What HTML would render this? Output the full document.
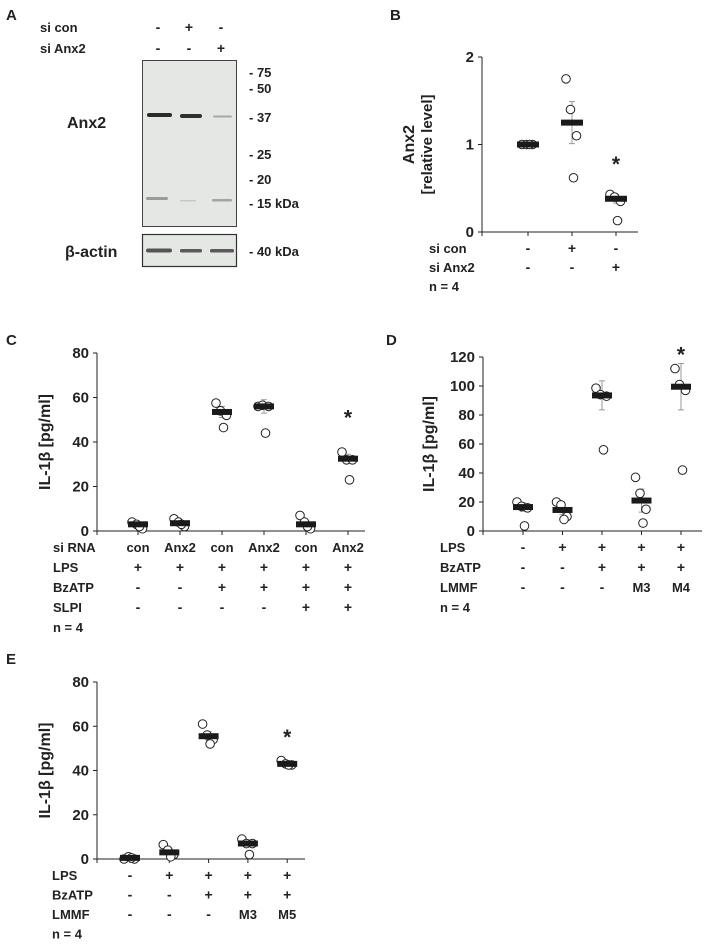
<!DOCTYPE html>
<html><head><meta charset="utf-8">
<style>
html,body{margin:0;padding:0;background:#fff;}
svg{display:block;font-family:"Liberation Sans",Arial,sans-serif;font-weight:bold;fill:#222;}
</style></head>
<body>
<svg id="fig" width="704" height="945" viewBox="0 0 704 945" xmlns="http://www.w3.org/2000/svg">
<g>
<text x="6" y="20" font-size="15">A</text>
<text x="40" y="32" font-size="13">si  con</text>
<text x="40" y="53" font-size="13">si  Anx2</text>
<g font-size="14" text-anchor="middle">
<text x="158" y="32">-</text><text x="189" y="32">+</text><text x="221" y="32">-</text>
<text x="158" y="53">-</text><text x="189" y="53">-</text><text x="221" y="53">+</text>
</g>
<rect x="142.5" y="60.5" width="94" height="166" fill="#e4e7e3" stroke="#444" stroke-width="1"/>
<rect x="147" y="113" width="25" height="4" rx="2" fill="#2a2a2a"/>
<rect x="180" y="114" width="22" height="4" rx="2" fill="#2f2f2f"/>
<rect x="213" y="115.5" width="19" height="2" rx="1" fill="#a6a8a5"/>
<rect x="146" y="197" width="22" height="3" rx="1.5" fill="#9a9c99"/>
<rect x="180" y="200" width="16" height="1.5" fill="#c6c8c5"/>
<rect x="212" y="199" width="20" height="2.5" rx="1" fill="#a2a4a1"/>
<rect x="142.5" y="234.5" width="94" height="32" fill="#e4e7e3" stroke="#333" stroke-width="1.2"/>
<rect x="146" y="248.5" width="26" height="4" rx="2" fill="#555"/>
<rect x="180" y="249" width="22" height="3.5" rx="1.5" fill="#5a5a5a"/>
<rect x="210" y="249" width="24" height="3.5" rx="1.5" fill="#5a5a5a"/>
<text x="67" y="128" font-size="16">Anx2</text>
<text x="65" y="257" font-size="16">β-actin</text>
<g font-size="13">
<text x="249" y="77">- 75</text><text x="249" y="93">- 50</text><text x="249" y="122">- 37</text>
<text x="249" y="159">- 25</text><text x="249" y="184">- 20</text><text x="249" y="208">- 15 kDa</text>
<text x="249" y="256">- 40 kDa</text>
</g>
</g>
<text x="390" y="20" font-size="15">B</text>
<text x="6" y="345" font-size="15">C</text>
<text x="386" y="345" font-size="15">D</text>
<text x="6" y="664" font-size="15">E</text>
</svg>
<script>
// Panel B data
const bCats = ["1","2","3"];
const bPoints = [[1,1,1,1],[1.75,1.4,1.1,0.62],[0.43,0.4,0.35,0.13]];
const bMeans = [1,1.25,0.38];
const bSem = [0.01,0.24,0.05];
const bTicks = [0,1,2];
const bStar = [null,null,0.8];
// Panel C data
const cCats = ["1","2","3","4","5","6"];
const cPoints = [[4,3,1,2],[5.5,4,2,3],[57.5,54,52,46.5],[56,56.5,56,44],[7,4,1,2],[35.5,32,32,23]];
const cMeans = [3,3.5,53.5,56,3,32.5];
const cSem = [1,1,2.5,3,1.5,2];
const cTicks = [0,20,40,60,80];
const cStar = [null,null,null,null,null,52];
// Panel D data
const dCats = ["1","2","3","4","5"];
const dPoints = [[20,17,16,3.5],[20,18,10,8],[98.5,94,93,56],[37,26,15,5.5],[112,101,97,42]];
const dMeans = [16.5,14.5,93.5,21,99.5];
const dSem = [3,3,10,8,16];
const dTicks = [0,20,40,60,80,100,120];
const dStar = [null,null,null,null,123];
// Panel E data
const eCats = ["1","2","3","4","5"];
const ePoints = [[0,1,0,0.5],[6.5,4,2,1],[61,56,54,52],[9,7,7,2],[44.5,43,42.5,42.5]];
const eMeans = [0.5,3,55.5,7,43];
const eSem = [0.3,1.2,2,1.5,0.5];
const eTicks = [0,20,40,60,80];
const eStar = [null,null,null,null,56];

const NS="http://www.w3.org/2000/svg";
const svg=document.getElementById('fig');
function mk(tag,attrs,parent){const e=document.createElementNS(NS,tag);for(const k in attrs)e.setAttribute(k,attrs[k]);(parent||svg).appendChild(e);return e;}

function panel(name,cfg,cats,points,means,sem,ticks,star){
  const g=mk('g',{});
  
  
  const ymax=ticks[ticks.length-1];
  const Y=v=>cfg.y0-(v/ymax)*(cfg.y0-cfg.yTop);
  const X=i=>cfg.x0+cfg.first+i*cfg.step;
  const ax=mk('path',{d:`M${cfg.x0},${cfg.yTop} V${cfg.y0} H${cfg.xEnd}`,stroke:'#222','stroke-width':1,fill:'none'},g);
  
  
  ticks.forEach(t=>{
    const tk=mk('line',{x1:cfg.x0-4,x2:cfg.x0,y1:Y(t),y2:Y(t),stroke:'#222'},g);
    
    
    const tl=mk('text',{x:cfg.x0-8,y:Y(t)+5,'font-size':15,'text-anchor':'end'},g);
    tl.textContent=t;
    
    
  });
  mk('line',{x1:cfg.x0,x2:cfg.x0,y1:cfg.y0,y2:cfg.y0+4,stroke:'#222'},g);
  cats.forEach((c,i)=>{
    const x=X(i);
    const xt=mk('line',{x1:x,x2:x,y1:cfg.y0,y2:cfg.y0+4,stroke:'#222'},g);
    
    
    const eb=mk('path',{d:`M${x},${Y(means[i]+sem[i])} V${Y(Math.max(0,means[i]-sem[i]))} M${x-3},${Y(means[i]+sem[i])} H${x+3} M${x-3},${Y(Math.max(0,means[i]-sem[i]))} H${x+3}`,stroke:'#999','stroke-width':1,fill:'none'},g);
    
    
    const offs=[-4,-1,3,1];
    points[i].forEach((v,j)=>{
      const p=mk('circle',{cx:x+offs[j]*1.5,cy:Y(v),r:4.3,fill:'#fff',stroke:'#222','stroke-width':1},g);
      
      
    });
    const m=mk('rect',{x:x-cfg.bw/2,y:Y(means[i])-3,width:cfg.bw,height:6,fill:'#1a1a1a'},g);
    
    
    if(star[i]!=null){
      const s=mk('text',{x:x,y:Y(star[i])+9,'font-size':21,'text-anchor':'middle'},g);
      s.textContent='*';
      
      
    }
  });
  cfg.ylab.forEach((l,k)=>{
    const t=mk('text',{transform:`translate(${l[1]},${(cfg.y0+cfg.yTop)/2}) rotate(-90)`,'font-size':l[2],'text-anchor':'middle'},g);
    t.textContent=l[0];
    
    
  });
  cfg.rows.forEach((r,k)=>{
    const y=cfg.rowY+k*cfg.rowH;
    const lab=mk('text',{x:cfg.labX,y:y,'font-size':13},g);
    lab.textContent=r[0];
    
    
    (r[1]||[]).forEach((v,i)=>{
      const t=mk('text',{x:X(i),y:y,'font-size':(v==='-'||v==='+')?14:13,'text-anchor':'middle'},g);
      t.textContent=v;
      
      
    });
  });
}

panel('panel-b',{x0:482,yTop:57,y0:232,xEnd:638,first:46,step:44,bw:22,
  ylab:[["Anx2",414,16],["[relative level]",432,15]],
  rowY:253,rowH:19,labX:429,
  rows:[["si  con",["-","+","-"]],["si  Anx2",["-","-","+"]],["n = 4",null]]},
  bCats,bPoints,bMeans,bSem,bTicks,bStar);

panel('panel-c',{x0:97,yTop:353,y0:531,xEnd:365,first:41,step:42,bw:20,
  ylab:[["IL-1β [pg/ml]",50,16]],
  rowY:552,rowH:20,labX:53,
  rows:[["si RNA",["con","Anx2","con","Anx2","con","Anx2"]],["LPS",["+","+","+","+","+","+"]],["BzATP",["-","-","+","+","+","+"]],["SLPI",["-","-","-","-","+","+"]],["n = 4",null]]},
  cCats,cPoints,cMeans,cSem,cTicks,cStar);

panel('panel-d',{x0:483,yTop:357,y0:531,xEnd:702,first:40,step:39.5,bw:20,
  ylab:[["IL-1β [pg/ml]",434,16]],
  rowY:552,rowH:20,labX:440,
  rows:[["LPS",["-","+","+","+","+"]],["BzATP",["-","-","+","+","+"]],["LMMF",["-","-","-","M3","M4"]],["n = 4",null]]},
  dCats,dPoints,dMeans,dSem,dTicks,dStar);

panel('panel-e',{x0:97,yTop:682,y0:859,xEnd:305,first:33,step:39.3,bw:20,
  ylab:[["IL-1β [pg/ml]",50,16]],
  rowY:880,rowH:19.5,labX:52,
  rows:[["LPS",["-","+","+","+","+"]],["BzATP",["-","-","+","+","+"]],["LMMF",["-","-","-","M3","M5"]],["n = 4",null]]},
  eCats,ePoints,eMeans,eSem,eTicks,eStar);
</script>
</body></html>
